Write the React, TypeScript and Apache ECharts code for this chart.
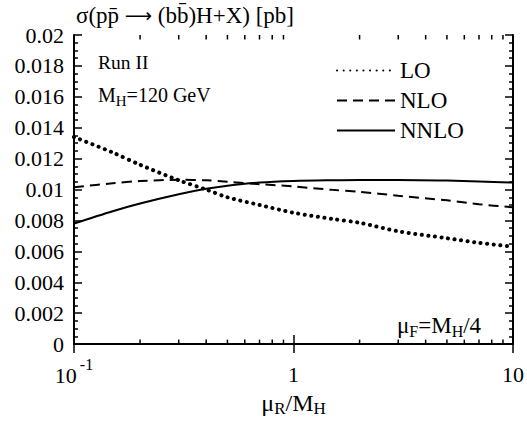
import React, { useEffect, useRef } from "react";
import * as echarts from "echarts";

const muR = [0.1, 0.15, 0.2, 0.3, 0.4, 0.5, 0.7, 1, 1.5, 2, 3, 5, 7, 10];
const sigmaLO = [0.0134, 0.0124, 0.0116, 0.0106, 0.0100, 0.0095, 0.0090, 0.0085, 0.0081, 0.00785, 0.0073, 0.00685, 0.00655, 0.0063];
const sigmaNLO = [0.01015, 0.0104, 0.01055, 0.01063, 0.0106, 0.0105, 0.01035, 0.0102, 0.00998, 0.00985, 0.0096, 0.0093, 0.00905, 0.00885];
const sigmaNNLO = [0.0078, 0.0086, 0.0091, 0.0097, 0.01005, 0.01025, 0.01045, 0.01055, 0.0106, 0.01062, 0.01062, 0.01058, 0.01052, 0.01045];
const minorXTicks = [0.2, 0.3, 0.4, 0.5, 0.6, 0.7, 0.8, 0.9, 2, 3, 4, 5, 6, 7, 8, 9];
const seriesNames = ["LO", "NLO", "NNLO"];

const FONT = "Liberation Serif";

export default function App() {
  const ref = useRef<HTMLDivElement>(null);
  useEffect(() => {
    if (!ref.current) return;
    const chart = echarts.init(ref.current, null, { renderer: "svg" });
    const pairs = (ys: number[]) => muR.map((x, i) => [x, ys[i]]);
    const axisLine = { show: true, lineStyle: { color: "#000", width: 2 } };
    const tickStyle = { color: "#000", width: 1.5 };
    const xBase = {
      type: "log" as const,
      logBase: 10,
      min: 0.1,
      max: 10,
      splitLine: { show: false },
      axisLine,
      axisTick: { show: true, inside: true, length: 9, lineStyle: tickStyle },
    };
    const yBase = {
      type: "value" as const,
      min: 0,
      max: 0.02,
      interval: 0.002,
      splitLine: { show: false },
      axisLine,
      axisTick: { show: true, inside: true, length: 8, lineStyle: tickStyle },
      minorTick: { show: true, splitNumber: 4, length: 4, lineStyle: tickStyle },
    };
    const lineSeries = (name: string, ys: number[], type: any, width: number, cap: string) => ({
      name,
      type: "line",
      data: pairs(ys),
      smooth: 0.3,
      symbol: "none",
      showSymbol: false,
      xAxisIndex: 0,
      yAxisIndex: 0,
      lineStyle: { color: "#000", width, type, cap },
      itemStyle: { color: "#000" },
    });
    chart.setOption({
      animation: false,
      backgroundColor: "#fff",
      textStyle: { fontFamily: FONT },
      grid: { left: 74, right: 14, top: 35, bottom: 68 },
      legend: {
        data: seriesNames,
        orient: "vertical",
        left: 336,
        top: 59,
        itemWidth: 58,
        itemHeight: 20,
        itemGap: 7,
        padding: 0,
        selectedMode: false,
        itemStyle: { opacity: 0, borderWidth: 0 },
        textStyle: { fontFamily: FONT, fontSize: 23, color: "#000" },
      },
      xAxis: [
        {
          ...xBase,
          position: "bottom",
          name: "{n|μ}{s|R}{n|/M}{s|H}",
          nameLocation: "middle",
          nameGap: 40,
          nameTextStyle: {
            fontFamily: FONT,
            color: "#000",
            rich: {
              n: { fontFamily: FONT, fontSize: 24, lineHeight: 28, color: "#000" },
              s: { fontFamily: FONT, fontSize: 17, color: "#000", verticalAlign: "bottom" },
            },
          },
          axisLabel: {
            margin: 12,
            color: "#000",
            fontFamily: FONT,
            formatter: (v: number) => (v < 0.5 ? "{a|10}{s|-1}" : "{c|" + (v < 5 ? "1" : "10") + "}"),
            rich: {
              a: { fontFamily: FONT, fontSize: 22, lineHeight: 30, verticalAlign: "bottom", color: "#000" },
              s: { fontFamily: FONT, fontSize: 16, lineHeight: 30, verticalAlign: "top", color: "#000", padding: [0, 0, 0, 3] },
              c: { fontFamily: FONT, fontSize: 22, lineHeight: 36, color: "#000" },
            },
          },
        },
        { ...xBase, position: "top", axisLabel: { show: false } },
      ],
      yAxis: [
        {
          ...yBase,
          position: "left",
          axisLabel: { margin: 10, color: "#000", fontFamily: FONT, fontSize: 22 },
        },
        { ...yBase, position: "right", axisLabel: { show: false } },
      ],
      series: [
        lineSeries("LO", sigmaLO, [0.1, 6.5], 4, "round"),
        lineSeries("NLO", sigmaNLO, [10, 6], 2, "butt"),
        lineSeries("NNLO", sigmaNNLO, "solid", 2, "butt"),
        {
          type: "custom",
          silent: true,
          clip: false,
          xAxisIndex: 0,
          yAxisIndex: 0,
          data: minorXTicks.map((v) => [v, 0]),
          encode: { x: 0, y: 1 },
          renderItem: (_p: any, api: any) => {
            const x = api.value(0);
            const b = api.coord([x, 0]);
            const t = api.coord([x, 0.02]);
            const style = { stroke: "#000", lineWidth: 1.5 };
            return {
              type: "group",
              children: [
                { type: "line", shape: { x1: b[0], y1: b[1], x2: b[0], y2: b[1] - 4.5 }, style },
                { type: "line", shape: { x1: t[0], y1: t[1], x2: t[0], y2: t[1] + 4.5 }, style },
              ],
            };
          },
        },
      ],
      graphic: [
        {
          type: "text",
          x: 76,
          y: 15,
          style: {
            text: "{t|σ(pp\u0304 }{ar|⟶}{t| (bb\u0304)H+X) [pb]}",
            fill: "#000",
            textVerticalAlign: "middle",
            rich: {
              t: { fontFamily: FONT, fontSize: 23, lineHeight: 26, fill: "#000" },
              ar: { fontFamily: "DejaVu Sans", fontSize: 19, lineHeight: 26, fill: "#000" },
            },
          },
        },
        {
          type: "text",
          x: 98,
          y: 62,
          style: { text: "Run II", fontFamily: FONT, fontSize: 19.5, fill: "#000", textVerticalAlign: "middle" },
        },
        {
          type: "text",
          x: 98,
          y: 95,
          style: {
            text: "{n|M}{s|H}{n|=120 GeV}",
            fill: "#000",
            textVerticalAlign: "middle",
            rich: {
              n: { fontFamily: FONT, fontSize: 20, lineHeight: 26, fill: "#000" },
              s: { fontFamily: FONT, fontSize: 15, verticalAlign: "bottom", fill: "#000" },
            },
          },
        },
        {
          type: "text",
          x: 397,
          y: 325,
          style: {
            text: "{n|μ}{s|F}{n|=M}{s|H}{n|/4}",
            fill: "#000",
            textVerticalAlign: "middle",
            rich: {
              n: { fontFamily: FONT, fontSize: 23, lineHeight: 28, fill: "#000" },
              s: { fontFamily: FONT, fontSize: 16, verticalAlign: "bottom", fill: "#000" },
            },
          },
        },
      ],
    });
    return () => chart.dispose();
  }, []);
  return (
    <div
      ref={ref}
      style={{ position: "fixed", left: 0, top: 0, width: 527, height: 422, background: "#fff" }}
    />
  );
}
